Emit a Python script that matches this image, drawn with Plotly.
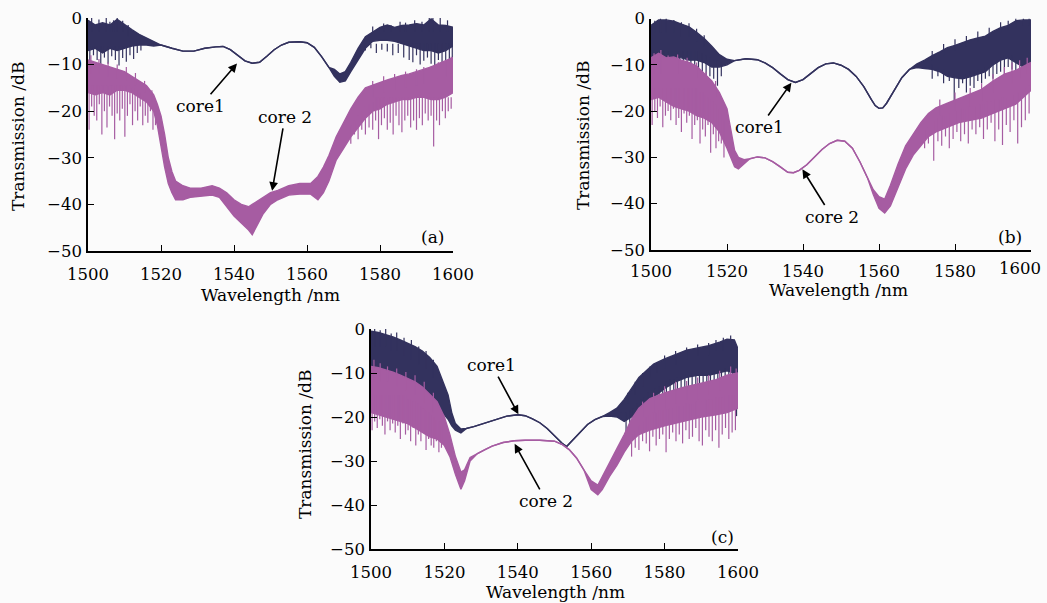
import plotly.graph_objects as go

NAVY = '#33325e'
MAUVE = '#a65ca2'
FONT = 'DejaVu Serif'
W, H = 1047, 603

# ---------------- panel (a) ----------------
a1_wl = [1500, 1502, 1504, 1506, 1508, 1510, 1512, 1514, 1516, 1518, 1520, 1523, 1526, 1529, 1532, 1535, 1537,
         1539, 1541, 1543, 1545, 1547, 1549, 1551, 1553, 1555, 1558, 1560, 1562, 1564, 1566, 1567.5, 1569, 1570.5,
         1572, 1574, 1576, 1578, 1580, 1582, 1584, 1586, 1588, 1590, 1592, 1594, 1596, 1598, 1600]
a1_hi = [-0.5, -1.5, -1.0, -1.5, -0.3, -1.5, -2.5, -3.5, -4.3, -5.0, -5.8, -6.5, -7.1, -7.1, -6.5, -6.2, -6.1,
         -6.8, -8.0, -9.2, -9.7, -9.5, -8.2, -6.8, -5.8, -5.2, -5.1, -5.3, -6.3, -8.3, -10.6, -11.0, -12.0, -11.5,
         -9.5, -6.5, -4.0, -3.0, -2.0, -1.5, -2.0, -1.6, -1.5, -1.2, -1.5, -0.2, -1.5, -1.6, -2.0]
a1_lo = [-7.0, -6.5, -7.5, -6.5, -7.0, -6.5, -6.0, -5.8, -5.8, -6.0, -5.8, -6.5, -7.1, -7.1, -6.5, -6.2, -6.1,
         -6.8, -8.0, -9.2, -9.7, -9.5, -8.2, -6.8, -5.8, -5.2, -5.1, -5.3, -6.3, -8.3, -10.6, -12.5, -13.8, -13.5,
         -11.5, -9.0, -6.5, -5.0, -4.8, -4.8, -5.0, -5.5, -6.0, -6.5, -7.0, -7.0, -7.5, -7.0, -6.0]
# noise spikes: position, start (inside the band), end
a1_spk_x = [1500.5, 1501.5, 1502.5, 1503.5, 1504.5, 1505.5, 1506.5, 1507.5, 1508.5, 1509.5, 1510.5, 1511.5, 1512.5,
            1513.5, 1514.5,
            1501, 1503, 1505, 1506, 1507, 1508, 1509.5, 1511,
            1576, 1577.5, 1579, 1580.5, 1582, 1583.5, 1585, 1586.5, 1588, 1589, 1590, 1591, 1592, 1593, 1594, 1595,
            1596, 1597, 1598, 1599, 1599.8,
            1578, 1581, 1583, 1585.5, 1587, 1589.5, 1591.5, 1593.5, 1594.5, 1596.5, 1598.5]
a1_spk_y0 = [-6, -6, -6, -6, -6, -6, -6, -6, -6, -6, -6, -6, -6, -5.5, -5.5,
             -3, -3, -3, -3, -3, -3, -3, -4,
             -5.5, -5.5, -5.5, -5.5, -5.5, -5.5, -5.5, -5.5, -5.5, -5.5, -5.5, -5.5, -5.5, -5.5, -5.5, -5.5,
             -5.5, -5.5, -5.5, -5.5, -5.5,
             -3, -3, -3, -3, -3, -3, -3, -3, -3, -3, -3]
a1_spk_y1 = [-9.5, -8.0, -9.0, -10.0, -8.5, -9.8, -8.2, -9.0, -10.2, -8.6, -9.4, -8.0, -8.8, -7.5, -7.0,
             0.0, -0.3, 0.2, -0.8, -0.5, 0.0, -0.6, -1.5,
             -7.0, -6.5, -7.5, -6.8, -7.2, -8.0, -7.5, -8.5, -9.0, -9.5, -8.0, -10.0, -9.2, -8.5, -9.8, -10.4,
             -9.0, -11.5, -10.0, -11.0, -10.5,
             -1.8, -1.2, -1.5, -0.8, -1.0, -0.5, -0.8, 0.0, 0.5, 0.0, -0.5]

a2_wl = [1500, 1502, 1504, 1506, 1508, 1510, 1512, 1514, 1516, 1518, 1519, 1520, 1521, 1522, 1523, 1524, 1526, 1528,
         1531, 1534, 1536, 1538, 1540, 1542, 1544, 1545, 1546, 1548, 1550, 1552, 1555, 1558, 1561, 1563, 1564.5,
         1566, 1568, 1570, 1572, 1574, 1576, 1578, 1580, 1582, 1584, 1586, 1588, 1590, 1592, 1594, 1596, 1598, 1600]
a2_hi = [-9.0, -9.5, -10.0, -10.5, -11.0, -11.5, -12.5, -13.5, -14.5, -16.5, -18.5, -21.0, -25.0, -30.0, -33.0,
         -35.0, -36.0, -36.5, -36.5, -36.0, -36.5, -37.5, -39.0, -40.0, -40.5, -40.0, -39.5, -38.5, -37.5, -37.0,
         -36.0, -35.5, -35.5, -34.0, -32.0, -29.5, -25.5, -22.5, -19.5, -17.0, -15.0, -14.4, -13.8, -13.3, -12.8,
         -12.3, -12.0, -11.5, -11.0, -10.5, -9.8, -9.2, -8.5]
a2_lo = [-16.0, -16.5, -16.0, -16.5, -15.5, -15.5, -16.0, -17.0, -18.0, -20.0, -23.0, -27.5, -32.0, -35.5, -37.5,
         -39.0, -39.0, -38.5, -38.3, -38.0, -38.5, -40.5, -42.5, -44.0, -45.5, -46.5, -45.0, -42.0, -40.0, -39.0,
         -38.0, -37.8, -37.8, -39.0, -37.5, -35.0, -30.5, -28.0, -25.5, -23.5, -21.5, -20.0, -19.5, -18.5, -18.0,
         -17.5, -17.5, -17.0, -17.0, -17.5, -17.5, -17.0, -16.0]
a2_spk_x = [1500.3, 1501, 1501.7, 1502.4, 1503.1, 1503.8, 1504.5, 1505.2, 1505.9, 1506.6, 1507.3, 1508, 1508.7,
            1509.4, 1510.1, 1510.8, 1511.5, 1512.2, 1512.9, 1513.6, 1514.3, 1515, 1515.7, 1516.4, 1517.1, 1517.8,
            1518.5,
            1500.8, 1503, 1505.5, 1508, 1510.5, 1513, 1515.5, 1517.5,
            1572, 1573, 1574, 1575, 1576, 1577, 1578, 1578.8, 1579.6, 1580.4, 1581.2, 1582, 1582.8, 1583.6, 1584.4,
            1585.2, 1586, 1586.8, 1587.6, 1588.4, 1589.2, 1590, 1590.8, 1591.6, 1592.4, 1593.2, 1594, 1594.7, 1595.5,
            1596.3, 1597.1, 1597.9, 1598.7, 1599.5,
            1578, 1581, 1584, 1587, 1590, 1592, 1594, 1596, 1598, 1599.5]
a2_spk_y0 = [-14.5, -14.5, -14.5, -14.5, -14.5, -14.5, -14.5, -14.5, -14.5, -14.5, -14.5, -14.5, -14.5,
             -14.5, -14.5, -14.5, -14.5, -15, -15, -15.5, -16, -16.5, -17, -17.5, -18, -19, -20,
             -12, -12, -12.5, -13, -13.5, -14.5, -16, -18,
             -23, -22, -21, -20, -19, -18.5, -18, -17, -17, -17, -17, -17, -17, -17, -17,
             -17, -17, -17, -17, -17, -17, -17, -17, -17, -17, -17, -17, -17, -17,
             -17, -17, -17, -17, -17,
             -17, -16, -15.5, -15, -14.5, -14, -13.5, -13, -12.5, -12]
a2_spk_y1 = [-24.0, -19.0, -21.0, -22.0, -18.5, -25.0, -20.0, -23.5, -19.0, -21.0, -26.0, -20.5, -22.0,
             -19.5, -25.5, -21.0, -18.5, -23.0, -20.0, -22.0, -19.0, -23.0, -21.0, -22.5, -20.0, -24.0, -23.0,
             -8.0, -8.8, -9.5, -10.0, -10.5, -11.8, -13.5, -15.5,
             -27.0, -25.0, -26.0, -24.0, -25.0, -23.5, -24.0, -22.0, -26.0, -23.0, -21.5, -24.0, -22.5, -25.0, -21.0,
             -23.0, -24.5, -22.0, -21.0, -23.5, -22.0, -24.0, -21.5, -23.0, -20.5, -22.0, -21.0, -27.6, -22.0,
             -23.0, -20.0, -21.5, -20.0, -19.5,
             -13.5, -12.5, -12.0, -11.5, -11.0, -10.5, -10.3, -9.5, -9.0, -8.3]

# ---------------- panel (b) ----------------
b1_wl = [1500, 1502, 1504, 1506, 1508, 1510, 1512, 1514, 1516, 1518, 1520, 1522, 1525, 1528, 1530, 1532, 1534,
         1536, 1538, 1540, 1542, 1544, 1546, 1548, 1550, 1552, 1554, 1556, 1558, 1559, 1560, 1561, 1562, 1564,
         1566, 1568, 1570, 1572, 1574, 1576, 1578, 1580, 1582, 1584, 1586, 1588, 1590, 1592, 1594, 1596, 1598, 1600]
b1_hi = [-1.5, -0.3, -0.3, -0.6, -1.2, -1.8, -3.0, -4.3, -6.0, -7.8, -8.8, -9.1, -8.7, -8.9, -9.6, -10.6, -12.0,
         -13.2, -13.8, -13.2, -11.9, -10.6, -9.8, -9.6, -10.1, -11.0, -12.5, -14.7, -17.5, -18.8, -19.4, -19.3,
         -18.3, -15.5, -12.8, -11.0, -9.8, -9.0, -8.0, -7.2, -6.3, -5.8, -5.2, -4.6, -4.2, -3.8, -2.8, -2.0, -1.5,
         -0.5, -0.3, -0.3]
b1_lo = [-9.0, -8.5, -8.5, -8.5, -8.5, -9.0, -9.0, -9.5, -10.5, -10.5, -10.0, -9.1, -8.7, -8.9, -9.6, -10.6, -12.0,
         -13.2, -13.8, -13.2, -11.9, -10.6, -9.8, -9.6, -10.1, -11.0, -12.5, -14.7, -17.5, -18.8, -19.4, -19.3,
         -18.3, -15.5, -12.8, -11.0, -10.6, -10.8, -11.0, -11.5, -12.5, -12.8, -13.0, -12.6, -12.0, -11.5, -10.0,
         -9.0, -8.5, -9.5, -10.5, -11.0]
b1_spk_x = [1500.5, 1501.5, 1502.5, 1503.5, 1504.5, 1505.5, 1506.5, 1507.5, 1508.5, 1509.5, 1510.5, 1511.5, 1512.5,
            1513.5, 1514.5, 1515.5, 1516.5, 1517.5, 1518.5,
            1501, 1502.5, 1504, 1506, 1508, 1510, 1512, 1514,
            1574, 1575.5, 1577, 1578.5, 1579.8, 1581, 1582, 1583, 1584, 1585, 1586, 1587, 1588, 1589, 1590, 1591,
            1592, 1593, 1594, 1595, 1596, 1597, 1598, 1599, 1599.8,
            1574, 1577, 1580, 1583, 1586, 1589, 1592, 1594, 1596, 1598, 1599.5]
b1_spk_y0 = [-7, -7, -7, -7, -7, -7, -7, -7, -7, -7, -7, -7, -7, -7.5, -8, -8.5, -9, -9, -9.5,
             -3, -3, -3, -3, -4, -4, -5, -6,
             -10, -10.5, -11, -11.5, -12, -12, -12, -12, -11.5, -11.5, -11, -11, -10.5, -10.5, -9.5, -9,
             -8.5, -8, -8, -8, -9, -9.5, -10, -10, -10.5,
             -9, -8, -7, -6, -5, -4.5, -3, -2.5, -2, -1.5, -1.5]
b1_spk_y1 = [-12.5, -10.5, -11.0, -12.0, -10.0, -12.5, -11.0, -11.5, -13.0, -10.5, -12.0, -11.0, -13.5, -12.0, -14.0,
             -12.5, -13.0, -14.5, -12.5,
             -0.5, 0.0, 0.0, -0.3, -0.8, -1.0, -2.2, -3.6,
             -13.0, -12.5, -14.0, -13.5, -22.7, -15.0, -14.0, -16.0, -14.5, -15.0, -13.5, -14.0, -13.0, -12.5, -13.0,
             -12.0, -11.5, -12.0, -10.5, -11.0, -12.0, -12.5, -13.5, -12.5, -13.0,
             -7.0, -5.5, -4.5, -3.8, -2.8, -2.0, -0.8, -0.5, 0.0, 0.0, 0.0]

b2_wl = [1500, 1502, 1504, 1506, 1508, 1510, 1512, 1514, 1516, 1518, 1520, 1521, 1522, 1523, 1524.5, 1526, 1528,
         1530, 1532, 1534, 1536, 1537.5, 1539, 1541, 1543, 1545, 1547, 1549, 1551, 1553, 1555, 1557, 1558.5, 1560,
         1561.5, 1563, 1565, 1567, 1569, 1571, 1573, 1575, 1578, 1581, 1584, 1587, 1590, 1593, 1596, 1598, 1600]
b2_hi = [-8.5, -7.5, -8.5, -8.3, -9.0, -9.5, -10.3, -12.0, -13.5, -16.0, -19.5, -24.0, -28.5, -30.0, -30.5, -30.3,
         -29.9, -30.1, -30.9, -32.0, -33.2, -33.3, -32.8, -31.6, -30.0, -28.3, -27.0, -26.3, -26.5, -28.0, -31.0,
         -34.5, -37.0, -38.5, -39.0, -36.0, -31.5, -27.5, -25.0, -22.5, -20.5, -19.3, -18.3, -17.3, -16.3, -15.3,
         -13.5, -12.0, -11.2, -10.3, -9.5]
b2_lo = [-17.5, -17.0, -18.0, -19.0, -19.5, -20.0, -21.0, -21.5, -22.5, -24.5, -28.0, -30.0, -32.0, -32.5, -31.5,
         -30.3, -29.9, -30.1, -30.9, -32.0, -33.2, -33.3, -32.8, -31.6, -30.0, -28.3, -27.0, -26.3, -26.5, -28.0,
         -31.0, -34.5, -38.0, -41.0, -42.0, -40.5, -36.5, -32.5, -29.5, -27.5, -25.5, -24.5, -23.5, -22.5, -22.0,
         -21.5, -20.5, -19.5, -18.5, -17.0, -15.5]
b2_spk_x = [1500.3, 1501, 1501.7, 1502.4, 1503.1, 1503.8, 1504.5, 1505.2, 1505.9, 1506.6, 1507.3, 1508, 1508.7,
            1509.4, 1510.1, 1510.8, 1511.5, 1512.2, 1512.9, 1513.6, 1514.3, 1515, 1515.7, 1516.4, 1517.1, 1517.8,
            1518.5, 1519.2,
            1500.8, 1502.6, 1504.5, 1507, 1509.5, 1512, 1514.5, 1517,
            1572, 1573, 1574.4, 1575.5, 1576.5, 1577.5, 1578.5, 1579.5, 1580.5, 1581.5, 1582.5, 1583.5, 1584.5,
            1585.5, 1586.5, 1587.5, 1588.5, 1589.5, 1590.5, 1591.5, 1592.5, 1593.5, 1594.5, 1595.5, 1596.5, 1597.5,
            1598.5, 1599.5,
            1576, 1580, 1584, 1587, 1590, 1593, 1595, 1597, 1599]
b2_spk_y0 = [-15, -15, -15, -15, -15, -15, -15, -15, -15, -15, -15, -15, -15, -15, -15, -15, -15, -15,
             -16, -16, -16.5, -17, -17.5, -18, -18.5, -19.5, -20.5, -22,
             -12, -12, -12, -12, -12, -13, -15, -17,
             -24, -23.5, -22, -21.5, -21, -21, -20.5, -20, -20, -19.5, -19.5, -19, -19, -19, -18.5, -18.5, -18,
             -18, -17.5, -17.5, -17, -17, -16.5, -16.5, -16, -16, -15, -14.5,
             -21, -20, -19, -18, -16, -15, -14, -13, -12]
b2_spk_y1 = [-23.0, -20.0, -21.5, -19.0, -23.5, -21.0, -20.0, -22.0, -19.5, -23.0, -21.5, -24.5, -20.5, -22.5,
             -21.0, -26.0, -23.0, -22.0, -27.0, -24.0, -25.5, -23.0, -29.0, -25.0, -28.0, -26.5, -27.0, -30.0,
             -7.5, -6.8, -8.0, -7.8, -8.5, -9.5, -11.5, -13.5,
             -28.0, -27.0, -30.7, -26.5, -27.5, -25.5, -28.0, -26.0, -24.5, -26.5, -25.0, -27.0, -24.0, -25.0,
             -23.5, -26.0, -24.0, -22.5, -26.5, -24.0, -27.3, -23.0, -24.5, -22.0, -27.0, -23.5, -22.0, -20.5,
             -17.5, -16.0, -15.0, -14.0, -12.0, -10.5, -9.5, -9.0, -8.5]

# ---------------- panel (c) ----------------
c1_wl = [1500, 1502, 1504, 1506, 1508, 1510, 1512, 1514, 1516, 1518, 1520, 1521, 1522, 1523, 1524.5, 1526, 1528,
         1531, 1534, 1537, 1540, 1542, 1544, 1546, 1548, 1550, 1552, 1553.3, 1555, 1557, 1559, 1561, 1563, 1565,
         1567, 1569, 1571, 1573, 1575, 1577, 1580, 1583, 1586, 1589, 1592, 1595, 1597, 1599, 1600]
c1_hi = [-0.5, -0.8, -1.3, -1.8, -2.5, -3.2, -4.0, -5.0, -6.5, -8.5, -13.0, -15.0, -19.0, -21.5, -22.7, -22.6,
         -22.2, -21.4, -20.6, -19.8, -19.5, -19.7, -20.4, -21.3, -22.6, -24.2, -25.9, -26.7, -25.2, -23.6, -21.7,
         -20.6, -19.9, -19.0, -18.0, -16.0, -13.5, -11.0, -9.5, -8.0, -6.8, -5.8, -4.8, -4.3, -3.8, -3.0, -2.3,
         -2.5, -4.5]
c1_lo = [-9.5, -10.0, -10.5, -11.0, -11.5, -12.0, -13.0, -14.5, -16.5, -18.0, -19.5, -20.5, -22.0, -23.0, -23.6,
         -22.6, -22.2, -21.4, -20.6, -19.8, -19.5, -19.7, -20.4, -21.3, -22.6, -24.2, -25.9, -26.7, -25.2, -23.6,
         -21.7, -20.6, -19.9, -19.8, -20.0, -21.0, -20.0, -18.5, -17.0, -15.5, -13.5, -12.0, -11.0, -10.5, -10.5,
         -10.0, -9.5, -10.0, -10.0]
c1_spk_x = [1500.5, 1501.5, 1502.5, 1503.5, 1504.5, 1505.5, 1506.5, 1507.5, 1508.5, 1509.5, 1510.5, 1511.5, 1512.5,
            1513.5, 1514.5, 1515.5, 1516.5, 1517.5, 1518.5,
            1501, 1502.5, 1504, 1505.5, 1507, 1509, 1511, 1513, 1515, 1517,
            1569.5, 1570.5, 1571.5, 1572.5, 1573.5, 1574.5, 1575.5, 1576.5, 1577.5, 1578.5, 1579.5, 1580.5, 1581.5,
            1582.5, 1583.5, 1584.5, 1585.5, 1586.5, 1587.5, 1588.5, 1589.5, 1590.5, 1591.5, 1592.5, 1593.5, 1594.5,
            1595.5, 1596.5, 1597.5, 1598.5, 1599.6,
            1568, 1570, 1572, 1574, 1576, 1578, 1580, 1583, 1586, 1589, 1592, 1594, 1596, 1598]
c1_spk_y0 = [-8, -8.5, -9, -9.5, -10, -10.5, -11, -11, -11.5, -11.5, -12, -12.5, -13, -14, -14.5, -15.5, -16.5, -17,
             -18,
             -4, -4, -4, -5, -5, -6, -7, -8, -9, -11,
             -19, -18.5, -18, -17, -16, -15.5, -14.5, -14, -13.5, -13, -12.5, -12, -11.5, -11.5, -11, -11, -10.5,
             -10.5, -10, -10, -10, -10, -10, -10, -9.5, -9.5, -9.5, -9, -9, -9, -9,
             -19, -17, -15, -13, -11, -10, -9, -8, -7, -6, -6, -5, -5, -5]
c1_spk_y1 = [-13.0, -11.5, -14.0, -12.0, -13.5, -12.5, -15.0, -13.0, -14.5, -13.5, -15.5, -14.5, -16.0, -17.0, -16.5,
             -18.5, -19.0, -20.0, -21.0,
             0.0, -0.3, 0.0, -1.0, -0.8, -2.0, -2.5, -4.0, -5.0, -7.0,
             -24.0, -22.0, -21.5, -20.5, -19.5, -21.0, -18.0, -19.5, -17.0, -18.0, -16.0, -17.5, -15.0, -16.5, -14.0,
             -15.5, -13.5, -14.5, -13.0, -15.0, -12.5, -14.5, -13.0, -12.0, -13.5, -12.0, -14.0, -12.5, -11.5, -13.0,
             -19.8,
             -17.0, -14.5, -12.0, -10.0, -8.5, -7.5, -6.0, -5.0, -4.2, -3.5, -3.2, -2.5, -2.0, -1.5]

c2_wl = [1500, 1502, 1504, 1506, 1508, 1510, 1512, 1514, 1516, 1518, 1520, 1521.5, 1523, 1524.5, 1525.5, 1527,
         1529, 1531, 1533, 1536, 1539, 1542, 1546, 1550, 1552, 1554, 1556, 1558, 1560, 1561.8, 1563, 1565, 1567,
         1569, 1571, 1573, 1576, 1580, 1585, 1590, 1594, 1597, 1600]
c2_hi = [-8.5, -8.8, -9.3, -9.8, -10.5, -11.2, -12.0, -13.2, -14.8, -16.5, -20.0, -24.0, -29.0, -32.5, -32.0,
         -29.2, -28.3, -27.4, -26.6, -25.8, -25.4, -25.3, -25.3, -25.5, -26.2, -27.4, -29.3, -32.0, -34.5, -35.5,
         -33.5, -30.5, -27.2, -24.0, -20.5, -18.0, -15.8, -14.5, -13.3, -12.3, -11.5, -10.5, -10.0]
c2_lo = [-19.0, -19.5, -20.0, -20.5, -21.0, -21.5, -22.5, -23.5, -24.5, -25.0, -26.5, -29.0, -33.0, -36.4, -34.5,
         -30.0, -28.3, -27.4, -26.6, -25.8, -25.4, -25.3, -25.3, -25.5, -26.2, -27.4, -29.3, -32.0, -36.5, -37.7,
         -36.5, -33.5, -31.0, -28.0, -25.5, -24.0, -23.0, -22.0, -21.0, -20.0, -19.5, -19.0, -18.0]
c2_spk_x = [1500.3, 1501, 1501.7, 1502.4, 1503.1, 1503.8, 1504.5, 1505.2, 1505.9, 1506.6, 1507.3, 1508, 1508.7,
            1509.4, 1510.1, 1510.8, 1511.5, 1512.2, 1512.9, 1513.6, 1514.3, 1515, 1515.7, 1516.4, 1517.1, 1517.8,
            1518.5, 1519.2,
            1500.8, 1502.5, 1504.5, 1507, 1509.5, 1512, 1514.5, 1517,
            1571, 1572, 1573, 1574, 1575, 1575.9, 1576.8, 1577.7, 1578.6, 1579.5, 1580.4, 1581.3, 1582.2, 1583.1,
            1584, 1584.9, 1585.8, 1586.7, 1587.6, 1588.5, 1589.4, 1590.3, 1591.2, 1592.1, 1593, 1593.9, 1594.8,
            1595.7, 1596.6, 1597.5, 1598.4, 1599.3,
            1574, 1577, 1580, 1583, 1586, 1589, 1592, 1595, 1598, 1599.5]
c2_spk_y0 = [-15, -15, -15, -15, -15, -15, -15, -15, -15, -15, -15, -15, -15, -15,
             -16, -16, -16.5, -16.5, -17, -17.5, -18, -18.5, -19, -19.5, -20, -20.5, -21, -22,
             -12, -12, -12, -13, -14, -15, -17, -19,
             -24, -23, -22, -21, -20, -19.5, -19, -19, -18.5, -18.5, -18, -18, -18, -17.5, -17.5, -17.5, -17, -17,
             -17, -16.5, -16.5, -16.5, -16, -16, -16, -15.5, -15.5, -15.5, -15, -15, -15, -15,
             -20, -19, -18, -17, -16, -16, -15, -14, -14, -14]
c2_spk_y1 = [-23.0, -21.0, -22.5, -20.5, -22.0, -24.0, -21.0, -23.0, -21.5, -23.5, -22.0, -25.0, -21.5, -24.0,
             -23.0, -25.5, -22.5, -26.5, -24.0, -25.5, -23.5, -27.5, -25.0, -26.5, -27.0, -25.5, -28.0, -27.0,
             -7.0, -7.8, -8.5, -9.0, -9.8, -10.5, -12.0, -14.5,
             -29.0, -27.0, -27.5, -25.5, -26.0, -27.8, -24.5, -26.5, -25.0, -24.0, -28.0, -25.0, -23.5, -25.5, -24.0,
             -26.0, -23.0, -25.0, -24.5, -22.5, -25.5, -26.5, -23.0, -24.5, -25.5, -23.0, -27.0, -24.0, -22.5, -25.0,
             -23.5, -23.0,
             -16.5, -14.5, -13.0, -12.0, -11.8, -11.0, -10.5, -9.5, -8.5, -9.0]

x_ticks = [1500, 1520, 1540, 1560, 1580, 1600]
x_labels = ['1500', '1520', '1540', '1560', '1580', '1600']
y_ticks = [0, -10, -20, -30, -40, -50]

# panel placement in pixels: left, right, top(0 dB), bottom(-50 dB), x tick label standoff
panels = {
    'a': dict(box=(88, 453, 18, 251), ax='x', ay='y', pad=7),
    'b': dict(box=(651, 1031, 18.5, 250), ax='x2', ay='y2', pad=5),
    'c': dict(box=(371, 738, 329, 549), ax='x3', ay='y3', pad=7),
}


def add_band(fig, wl, hi, lo, color, xa, ya):
    fig.add_trace(go.Scatter(x=wl, y=hi, mode='lines', line=dict(color=color, width=1.4),
                             xaxis=xa, yaxis=ya, hoverinfo='skip', showlegend=False))
    fig.add_trace(go.Scatter(x=wl, y=lo, mode='lines', line=dict(color=color, width=1.4),
                             fill='tonexty', fillcolor=color,
                             xaxis=xa, yaxis=ya, hoverinfo='skip', showlegend=False))


def add_spikes(fig, sx, sy0, sy1, color, xa, ya):
    xs, ys = [], []
    for x, t, b in zip(sx, sy0, sy1):
        xs += [x, x, None]
        ys += [t, b, None]
    fig.add_trace(go.Scatter(x=xs, y=ys, mode='lines', line=dict(color=color, width=1.2),
                             xaxis=xa, yaxis=ya, hoverinfo='skip', showlegend=False))


fig = go.Figure()

for key, c1, c2 in [
    ('a', (a1_wl, a1_hi, a1_lo, a1_spk_x, a1_spk_y0, a1_spk_y1), (a2_wl, a2_hi, a2_lo, a2_spk_x, a2_spk_y0, a2_spk_y1)),
    ('b', (b1_wl, b1_hi, b1_lo, b1_spk_x, b1_spk_y0, b1_spk_y1), (b2_wl, b2_hi, b2_lo, b2_spk_x, b2_spk_y0, b2_spk_y1)),
    ('c', (c1_wl, c1_hi, c1_lo, c1_spk_x, c1_spk_y0, c1_spk_y1), (c2_wl, c2_hi, c2_lo, c2_spk_x, c2_spk_y0, c2_spk_y1)),
]:
    xa, ya = panels[key]['ax'], panels[key]['ay']
    add_band(fig, c1[0], c1[1], c1[2], NAVY, xa, ya)
    add_spikes(fig, c1[3], c1[4], c1[5], NAVY, xa, ya)
    add_band(fig, c2[0], c2[1], c2[2], MAUVE, xa, ya)
    add_spikes(fig, c2[3], c2[4], c2[5], MAUVE, xa, ya)

axis_common = dict(showline=True, linecolor='black', linewidth=1.6, ticks='inside', ticklen=6, tickwidth=1.4,
                   tickcolor='black', showgrid=False, zeroline=False, mirror=False, automargin=False,
                   tickfont=dict(family=FONT, size=16.5, color='black'))

layout = dict(width=W, height=H, margin=dict(l=0, r=0, t=0, b=0, autoexpand=False),
              paper_bgcolor='#fbfbfb', plot_bgcolor='#fbfbfb', showlegend=False)

for key, p in panels.items():
    l, r, t, b = p['box']
    xname = 'xaxis' + p['ax'][1:]
    yname = 'yaxis' + p['ay'][1:]
    labels = list(x_labels)
    if key == 'b':
        labels[-1] = ''   # drawn below as an annotation, nudged left to stay inside the page
    layout[xname] = dict(axis_common, domain=[l / W, r / W], range=[1500, 1600], tickvals=x_ticks,
                         ticktext=labels, anchor=p['ay'], ticklabelstandoff=p['pad'])
    layout[yname] = dict(axis_common, domain=[1 - b / H, 1 - t / H], range=[-50, 0], tickvals=y_ticks,
                         anchor=p['ax'], ticklabelstandoff=1)

fig.update_layout(**layout)

# axis titles, panel letters and the shifted 1600 label of panel (b)
titles = [
    ('Wavelength /nm', 270, 295, 0, 17), ('Transmission /dB', 18, 137, -90, 17), ('(a)', 432, 237, 0, 17),
    ('Wavelength /nm', 838, 290, 0, 17), ('Transmission /dB', 583, 136, -90, 17), ('(b)', 1010, 237, 0, 17),
    ('Wavelength /nm', 555, 592, 0, 17), ('Transmission /dB', 305, 445, -90, 17), ('(c)', 722, 537, 0, 17),
    ('1600', 1020, 268, 0, 16.5),
]
for txt, px, py, ang, fs in titles:
    fig.add_annotation(text=txt, x=px / W, y=1 - py / H, xref='paper', yref='paper', showarrow=False,
                       xanchor='center', yanchor='middle', textangle=ang,
                       font=dict(family=FONT, size=fs, color='black'))

# arrows: (label, panel x axis, panel y axis, head wavelength, head dB, text offset px)
arrows = [
    ('core1', 'x', 'y', 1541, -9.6, -37, 43),
    ('core 2', 'x', 'y', 1550.4, -37.3, 13, -75),
    ('core1', 'x2', 'y2', 1537.1, -13.7, -32, 45),
    ('core 2', 'x2', 'y2', 1539.7, -32.4, 30, 48),
    ('core1', 'x3', 'y3', 1540.3, -19.6, -27, -50),
    ('core 2', 'x3', 'y3', 1539, -25.9, 32, 58),
]
for txt, xa, ya, hx, hy, ax, ay in arrows:
    fig.add_annotation(text=txt, x=hx, y=hy, xref=xa, yref=ya, ax=ax, ay=ay, showarrow=True,
                       arrowhead=2, arrowsize=1.1, arrowwidth=1.6, arrowcolor='black', standoff=1,
                       font=dict(family=FONT, size=17, color='black'))

# the page body has a default 8px margin; drop it so the figure sits at the window corner
fig.write_html('out.html', config={'displayModeBar': False},
               post_script="document.body.style.margin='0';")
